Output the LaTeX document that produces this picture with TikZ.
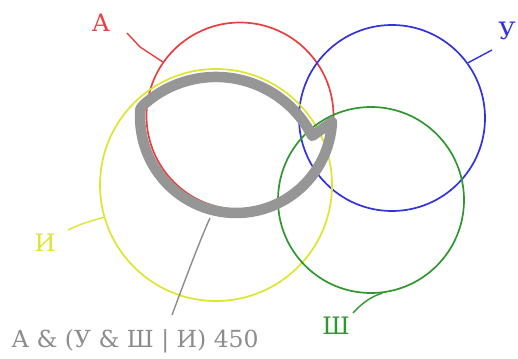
\documentclass[tikz,border=0pt]{standalone}
\usepackage{fontspec}
\setmainfont{DejaVu Serif}
\definecolor{cA}{RGB}{232,64,64}
\definecolor{cU}{RGB}{50,50,225}
\definecolor{cI}{RGB}{222,228,48}
\definecolor{cSh}{RGB}{48,150,48}
\definecolor{cG}{RGB}{150,150,150}
\definecolor{cT}{RGB}{140,140,140}
\tikzset{
  venn/.style={circle, draw, line width=1.7pt, inner sep=0pt},
  lbl/.style={font=\fontsize{24}{26}\selectfont, inner sep=0pt},
  lead/.style={line width=1.4pt},
  selpath/.style={draw=cG, line width=10.5pt, line join=round}
}
\begin{document}
\begin{tikzpicture}[x=1pt,y=1pt]
\useasboundingbox (0,0) rectangle (518,-358);
% circles
\node[venn, draw=cA, minimum size=187pt] (A) at (240,-116) {};
\node[venn, draw=cU, minimum size=186pt] (U) at (392,-118) {};
\node[venn, draw=cI, minimum size=232pt] (I) at (216,-185) {};
\node[venn, draw=cSh, minimum size=186pt] (Sh) at (371,-200) {};
% labels
\node[lbl, text=cA] (lA) at (101,-23) {А};
\node[lbl, text=cU] (lU) at (507,-31) {У};
\node[lbl, text=cI] (lI) at (45,-243) {И};
\node[lbl, text=cSh] (lSh) at (336,-326) {Ш};
\coordinate (aA) at (127,-33);
\coordinate (aU) at (492,-50);
\coordinate (aI) at (68,-230);
\coordinate (aSh) at (353,-313);
\draw[lead, draw=cA] (aA) -- (140,-47) -- (A.145);
\draw[lead, draw=cU] (aU) -- (U.36);
\draw[lead, draw=cI] (aI) .. controls (82,-223) and (92,-221) .. (I.196);
\draw[lead, draw=cSh] (aSh) .. controls (362,-303) and (372,-296) .. (Sh.277);
% selected region
\path[selpath] (143.7,-104.7) arc[start angle=132, end angle=27, radius=108]
  -- (332,-122) arc[start angle=-3, end angle=-185, radius=96] -- cycle;
% result label
\node[lbl, text=cT, font=\fontsize{23.5}{26}\selectfont] (T) at (135,-341) {А \& (У \& Ш | И) 450};
\coordinate (gT) at (210,-218);
\draw[lead, draw=cT] (172,-315) .. controls (185,-280) and (200,-240) .. (gT);
\end{tikzpicture}
\end{document}
